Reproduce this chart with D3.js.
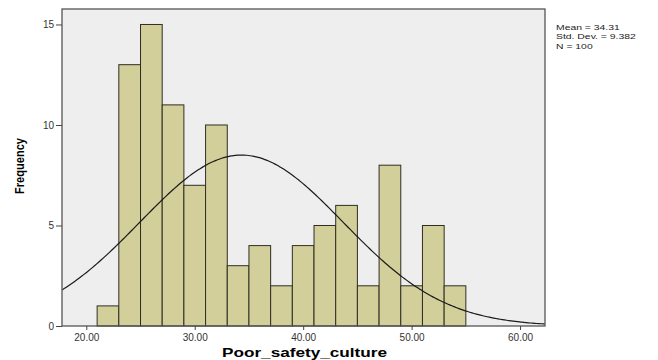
<!DOCTYPE html>
<html lang="en">
<head>
    <meta charset="UTF-8">
    <script src="https://d3js.org/d3.v7.min.js"></script>
    <title>Histogram</title>
    <style>
        body { margin: 0; background: #fff; }
        text { font-family: "Liberation Sans", Arial, sans-serif; }
    </style>
</head>
<body>
    <div id="chart"></div>
    <script>
        // bins of width 2 starting at 21
        var binStarts = [21, 23, 25, 27, 29, 31, 33, 35, 37, 39, 41, 43, 45, 47, 49, 51, 53];
        var counts = [1, 13, 15, 11, 7, 10, 3, 4, 2, 4, 5, 6, 2, 8, 2, 5, 2];
        var binWidth = 2;
        var xTicks = [20, 30, 40, 50, 60];
        var yTicks = [0, 5, 10, 15];
        var mean = 34.31, sd = 9.382, n = 100;
        var statsLines = ["Mean = 34.31", "Std. Dev. = 9.382", "N = 100"];

        var width = 658, height = 360;
        var margin = { top: 9, right: 113, bottom: 34, left: 62 };
        var plotW = width - margin.left - margin.right;
        var plotH = height - margin.top - margin.bottom;

        var svg = d3.select("#chart").append("svg")
            .attr("width", width)
            .attr("height", height);

        var g = svg.append("g")
            .attr("transform", "translate(" + margin.left + "," + margin.top + ")");

        var x = d3.scaleLinear().domain([17.76, 62.3]).range([0, plotW]);
        var y = d3.scaleLinear().domain([0, 15.77]).range([plotH, 0]);

        // plot background
        g.append("rect")
            .attr("width", plotW)
            .attr("height", plotH)
            .attr("fill", "#eeeeee");

        // bars
        g.selectAll(".bar")
            .data(counts)
            .enter()
            .append("rect")
            .attr("x", function (d, i) { return x(binStarts[i]); })
            .attr("y", function (d) { return y(d); })
            .attr("width", function (d, i) { return x(binStarts[i] + binWidth) - x(binStarts[i]); })
            .attr("height", function (d) { return plotH - y(d); })
            .attr("fill", "#d3cf9b")
            .attr("stroke", "#2e2e24")
            .attr("stroke-width", 1);

        // normal curve scaled to counts
        var curve = d3.range(17.76, 62.3, 0.2).concat([62.3]).map(function (v) {
            var z = (v - mean) / sd;
            return [v, n * binWidth / (sd * Math.sqrt(2 * Math.PI)) * Math.exp(-0.5 * z * z)];
        });
        g.append("path")
            .datum(curve)
            .attr("fill", "none")
            .attr("stroke", "#1a1a1a")
            .attr("stroke-width", 1.2)
            .attr("d", d3.line()
                .x(function (d) { return x(d[0]); })
                .y(function (d) { return y(d[1]); })
                .curve(d3.curveBasis));

        // frame
        g.append("rect")
            .attr("width", plotW)
            .attr("height", plotH)
            .attr("fill", "none")
            .attr("stroke", "#555")
            .attr("stroke-width", 1.3);

        // axes
        var xAxis = g.append("g")
            .attr("transform", "translate(0," + plotH + ")")
            .call(d3.axisBottom(x).tickValues(xTicks).tickSize(4).tickPadding(4)
                .tickFormat(d3.format(".2f")));
        var yAxis = g.append("g")
            .call(d3.axisLeft(y).tickValues(yTicks).tickSize(6).tickPadding(2)
                .tickFormat(d3.format("d")));
        [xAxis, yAxis].forEach(function (a) {
            a.select(".domain").remove();
            a.selectAll("line").attr("stroke", "#444");
            a.selectAll("text")
                .attr("fill", "#333")
                .style("font-size", "10px")
                .style("font-family", "'Liberation Sans', Arial, sans-serif");
        });

        // axis titles
        svg.append("text")
            .attr("x", 222)
            .attr("y", 357)
            .attr("textLength", 165)
            .attr("lengthAdjust", "spacingAndGlyphs")
            .style("font-size", "13px")
            .style("font-weight", "bold")
            .text("Poor_safety_culture");

        svg.append("text")
            .attr("transform", "translate(24,166) rotate(-90)")
            .attr("text-anchor", "middle")
            .attr("textLength", 56)
            .attr("lengthAdjust", "spacingAndGlyphs")
            .style("font-size", "12px")
            .style("font-weight", "bold")
            .text("Frequency");

        // stats box (SPSS text is horizontally stretched)
        svg.append("g")
            .attr("transform", "translate(556,0) scale(1.3,1)")
            .selectAll("text")
            .data(statsLines)
            .enter()
            .append("text")
            .attr("x", 0)
            .attr("y", function (d, i) { return 30 + i * 9.4; })
            .style("font-size", "8px")
            .attr("fill", "#222")
            .text(function (d) { return d; });
    </script>
</body>
</html>
